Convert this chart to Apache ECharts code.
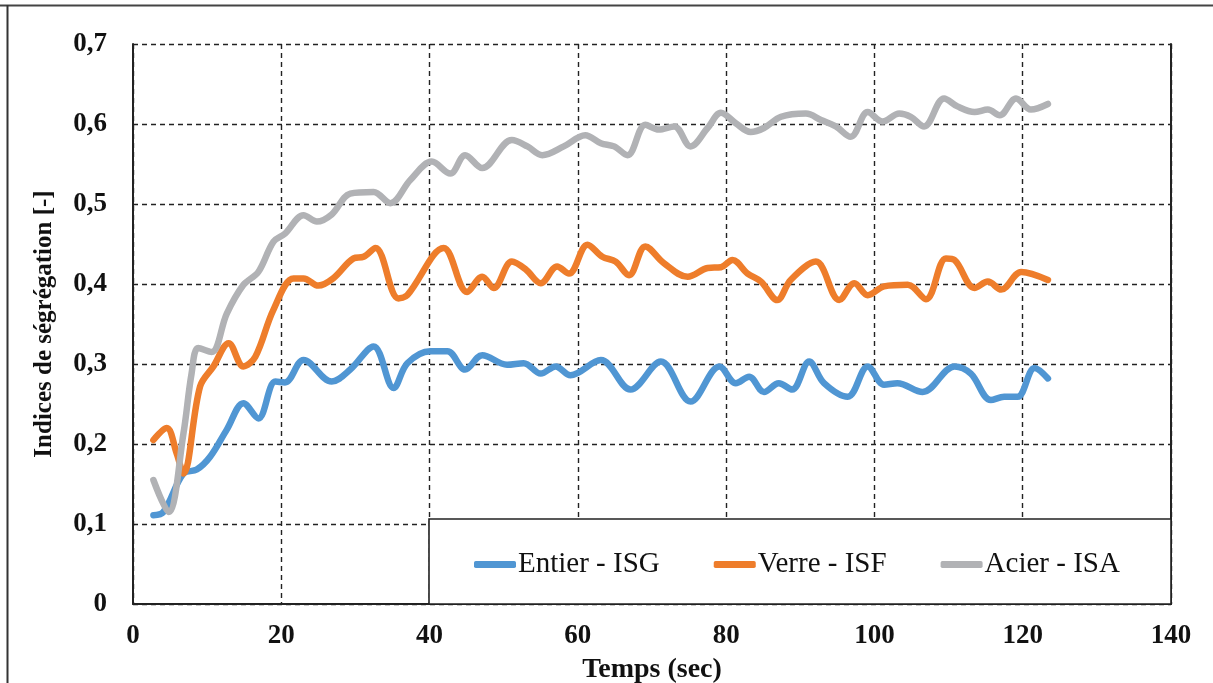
<!DOCTYPE html>
<html>
<head>
<meta charset="utf-8">
<script src="https://cdn.jsdelivr.net/npm/echarts@6/dist/echarts.min.js"></script>
<style>
html,body{margin:0;padding:0;background:#fff;}
#c{width:1213px;height:683px;}
</style>
</head>
<body>
<div id="c"></div>
<script>
const xTicks = [0, 20, 40, 60, 80, 100, 120, 140];
const yTickLabels = ['0', '0,1', '0,2', '0,3', '0,4', '0,5', '0,6', '0,7'];
const seriesNames = ['Entier - ISG', 'Verre - ISF', 'Acier - ISA'];

const timeISG = [2.75, 4.1, 6.8, 8.6, 10.4, 12.65, 14.9, 16.9, 19.2, 20.5, 23.0, 26.8, 29.3, 32.45, 35.15, 37.0, 40.1, 42.4, 44.8, 47.1, 50.45, 52.7, 55.0, 57.0, 59.0, 63.1, 67.1, 71.2, 75.2, 79.1, 81.3, 83.1, 85.1, 87.1, 88.9, 91.2, 93.2, 96.4, 99.1, 101.3, 103.1, 106.5, 110.8, 113.0, 115.7, 117.5, 119.3, 121.6, 123.4];
const valISG = [0.111, 0.115, 0.163, 0.168, 0.184, 0.218, 0.251, 0.232, 0.278, 0.277, 0.305, 0.278, 0.293, 0.322, 0.270, 0.301, 0.316, 0.316, 0.293, 0.311, 0.299, 0.301, 0.288, 0.297, 0.286, 0.305, 0.268, 0.303, 0.253, 0.297, 0.276, 0.284, 0.265, 0.276, 0.268, 0.303, 0.276, 0.259, 0.297, 0.274, 0.276, 0.265, 0.297, 0.288, 0.255, 0.259, 0.259, 0.295, 0.282];

const timeISF = [2.75, 4.55, 5.9, 6.8, 9.05, 10.85, 12.9, 14.9, 16.5, 18.95, 21.65, 23.0, 25.0, 27.0, 29.75, 31.1, 32.7, 35.8, 37.0, 41.9, 45.06, 47.1, 48.65, 51.1, 53.0, 55.0, 57.2, 58.8, 61.3, 63.3, 65.1, 66.9, 69.1, 71.6, 74.8, 77.5, 79.3, 80.85, 82.9, 84.7, 86.9, 88.7, 92.1, 95.25, 97.3, 99.1, 101.3, 104.5, 106.95, 109.65, 110.8, 113.5, 115.3, 117.1, 119.8, 123.4];
const valISF = [0.205, 0.220, 0.188, 0.163, 0.272, 0.297, 0.326, 0.297, 0.309, 0.368, 0.407, 0.407, 0.398, 0.407, 0.432, 0.434, 0.445, 0.382, 0.386, 0.445, 0.390, 0.409, 0.395, 0.428, 0.418, 0.401, 0.422, 0.413, 0.449, 0.434, 0.428, 0.411, 0.447, 0.426, 0.409, 0.420, 0.421, 0.430, 0.413, 0.403, 0.380, 0.405, 0.428, 0.380, 0.401, 0.386, 0.397, 0.399, 0.381, 0.432, 0.430, 0.395, 0.403, 0.393, 0.415, 0.405];

const timeISA = [2.75, 4.8, 6.8, 7.9, 8.8, 10.6, 12.65, 14.9, 16.9, 18.95, 20.5, 23.0, 24.8, 26.8, 29.3, 32.45, 34.7, 37.4, 40.3, 42.8, 44.8, 47.1, 51.1, 53.2, 55.2, 58.1, 61.0, 63.1, 64.9, 66.7, 69.1, 70.9, 73.0, 75.2, 77.5, 79.3, 81.3, 83.3, 85.1, 87.4, 90.75, 92.8, 94.8, 96.8, 99.1, 101.1, 103.35, 104.9, 106.7, 109.4, 111.2, 113.5, 115.3, 116.9, 119.1, 121.1, 123.4];
const valISA = [0.155, 0.115, 0.213, 0.288, 0.320, 0.315, 0.363, 0.399, 0.415, 0.453, 0.463, 0.486, 0.478, 0.487, 0.513, 0.515, 0.501, 0.530, 0.553, 0.538, 0.561, 0.545, 0.580, 0.572, 0.561, 0.572, 0.586, 0.576, 0.572, 0.561, 0.599, 0.593, 0.597, 0.572, 0.595, 0.614, 0.601, 0.590, 0.595, 0.609, 0.613, 0.605, 0.597, 0.584, 0.615, 0.603, 0.613, 0.609, 0.597, 0.632, 0.622, 0.615, 0.618, 0.611, 0.632, 0.618, 0.625];

const colors = ['#5096d3', '#ee7d2b', '#b1b2b5'];

function zip(t, v) { return t.map((x, i) => [x, v[i]]); }

const chart = echarts.init(document.getElementById('c'), null, {renderer: 'canvas'});
const serif = '"Liberation Serif", "Times New Roman", serif';
const gridLine = {show: true, lineStyle: {color: '#222', width: 1.4, type: [5, 4]}};

const seriesData = [zip(timeISG, valISG), zip(timeISF, valISF), zip(timeISA, valISA)];

chart.setOption({
  backgroundColor: '#fff',
  animation: false,
  grid: {left: 133, right: 42, top: 44, bottom: 79, containLabel: false, outerBoundsMode: 'none'},
  xAxis: {
    type: 'value', min: xTicks[0], max: xTicks[xTicks.length - 1], interval: 20,
    axisLine: {show: true, onZero: false, lineStyle: {color: '#222', width: 2}},
    axisTick: {show: false},
    splitLine: gridLine,
    axisLabel: {fontFamily: serif, fontWeight: 'bold', fontSize: 27, color: '#111', margin: 19},
    name: 'Temps (sec)', nameLocation: 'middle', nameGap: 52,
    nameTextStyle: {fontFamily: serif, fontWeight: 'bold', fontSize: 28, color: '#111'}
  },
  yAxis: [{
    type: 'value', min: 0, max: 0.7, interval: 0.1,
    axisLine: {show: true, lineStyle: {color: '#222', width: 2}},
    axisTick: {show: false},
    splitLine: gridLine,
    axisLabel: {fontFamily: serif, fontWeight: 'bold', fontSize: 27, color: '#111', margin: 26,
      formatter: function (v) { return yTickLabels[Math.round(v * 10)]; }},
    name: 'Indices de ségrégation [-]', nameLocation: 'middle', nameGap: 76, nameRotate: 90,
    nameTextStyle: {fontFamily: serif, fontWeight: 'bold', fontSize: 25, color: '#111'}
  }, {
    type: 'value', min: 0, max: 0.7, interval: 0.1, position: 'right',
    axisLine: {show: true, lineStyle: {color: '#222', width: 2}},
    axisTick: {show: false}, axisLabel: {show: false}, splitLine: {show: false}
  }],
  legend: {
    left: 474, top: 550, orient: 'horizontal',
    itemWidth: 42, itemHeight: 7, itemGap: 54, icon: 'roundRect',
    textStyle: {fontFamily: serif, fontSize: 29, color: '#111', padding: [0, 0, 0, -3]},
    data: seriesNames, z: 10, padding: 0
  },
  graphic: [
    {type: 'rect', shape: {x: 429, y: 519, width: 742, height: 85}, style: {fill: '#fff', stroke: '#222', lineWidth: 1.6}, z: 5},
    {type: 'line', shape: {x1: 0, y1: 5.5, x2: 1213, y2: 5.5}, style: {stroke: '#444', lineWidth: 2}, z: 5},
    {type: 'line', shape: {x1: 7.5, y1: 5, x2: 7.5, y2: 683}, style: {stroke: '#333', lineWidth: 2}, z: 5}
  ],
  series: seriesNames.map((n, i) => ({
    name: n, type: 'line', data: seriesData[i], smooth: 0.35, showSymbol: false,
    lineStyle: {color: colors[i], width: 6.5, cap: 'round', join: 'round'},
    itemStyle: {color: colors[i]}, z: 3
  }))
});
</script>
</body>
</html>
